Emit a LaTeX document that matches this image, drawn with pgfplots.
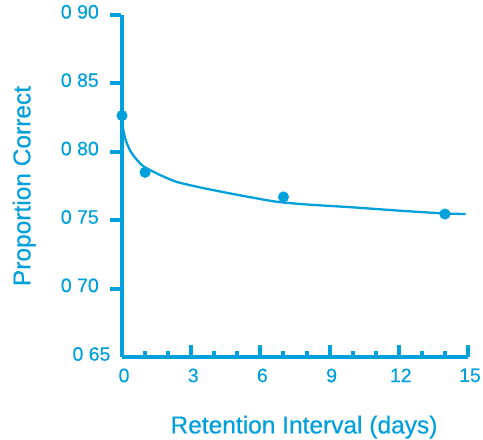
\documentclass[border=0pt]{standalone}
\usepackage{pgfplots}
\pgfplotsset{compat=1.18}
\usepackage{fontspec}
\setmainfont{Liberation Sans}[FakeBold=0.35]
\definecolor{cyblue}{RGB}{0,160,220}
\newcommand{\tk}{\hspace{11pt}\rule[1.5pt]{11pt}{4pt}}
\begin{document}
\begin{tikzpicture}
\useasboundingbox (-122pt,-83pt) rectangle (361pt,357pt);
\pgfplotsset{
  base/.style={
    at={(0pt,0pt)}, anchor=south west,
    scale only axis, width=346pt, height=342pt,
    xmin=0, xmax=15, ymin=0.65, ymax=0.90,
    clip=false,
    tick style={color=cyblue, line width=4pt},
    ticklabel style={text=cyblue, font=\fontsize{19.5}{22}\selectfont},
  }
}
% axis with x ticks (inside) and the 0.65 label
\begin{axis}[base,
  axis x line=bottom, axis y line=left,
  axis line style={-, color=cyblue, line width=4.5pt},
  y axis line style={draw=none},
  xtick={0,3,6,9,12,15}, xticklabels={0,3,6,9,12,15},
  minor x tick num=2,
  ytick={0.65}, yticklabels={0 65},
  tick align=inside,
  major tick length=12pt, minor tick length=6pt,
  xticklabel style={yshift=-8pt, xshift=2pt},
  yticklabel style={xshift=-8pt, yshift=3pt},
  xlabel={Retention Interval (days)},
  xlabel style={text=cyblue, font=\fontsize{24.5}{27}\selectfont, at={(axis description cs:0.526,-0.205)}, anchor=center},
]
\end{axis}
% axis with y axis line, labels (each label carries its outward tick mark), data
\begin{axis}[base,
  axis x line=none, axis y line=left,
  axis line style={-, color=cyblue, line width=4.5pt},
  xtick=\empty,
  ytick={0.70,0.75,0.80,0.85,0.90},
  yticklabels={0 70\tk,0 75\tk,0 80\tk,0 85\tk,0 90\tk},
  tick align=inside,
  major tick length=0pt,
  ytick style={draw=none},
  yticklabel style={anchor=base east, inner sep=0pt, xshift=-1pt, yshift=-3.5pt},
  ylabel={Proportion Correct},
  ylabel style={text=cyblue, font=\fontsize{24.5}{27}\selectfont, at={(axis description cs:-0.283,0.5)}, anchor=center},
]
\addplot[color=cyblue, line width=2.3pt, smooth, tension=0.4] coordinates {
 (0,0.826) (0.05,0.817) (0.15,0.809) (0.35,0.801) (0.6,0.795) (0.92,0.7895)
 (1.3,0.786) (1.65,0.783) (2.37,0.778) (3.38,0.774) (4.4,0.7705) (5.5,0.767)
 (6.7,0.7635) (8,0.7615) (10,0.7594) (12,0.757) (13.9,0.755) (14.9,0.7545)
};
\addplot[only marks, mark=*, mark size=5.3pt, color=cyblue, fill=cyblue] coordinates {
 (0,0.8265) (1,0.785) (7,0.767) (14,0.7545)
};
\end{axis}
\end{tikzpicture}
\end{document}
